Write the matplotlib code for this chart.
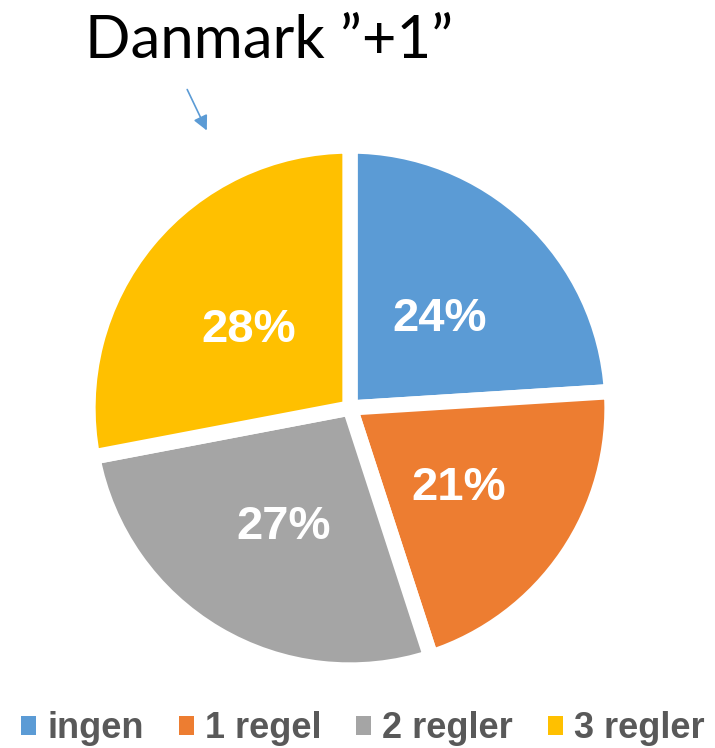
import numpy as np
import matplotlib.pyplot as plt

# data
categories = ["ingen", "1 regel", "2 regler", "3 regler"]
shares = [24, 21, 27, 28]
colors = ["#5B9BD5", "#ED7D31", "#A5A5A5", "#FFC000"]
title = "Danmark \u201d+1\u201d"

W, H = 715, 748
fig = plt.figure(figsize=(W / 100, H / 100), dpi=100)
ax = fig.add_axes([0, 0, 1, 1])

# pie, clockwise from 12 o'clock, white gaps between slices
wedges, texts, autotexts = ax.pie(
    shares, colors=colors, startangle=90, counterclock=False,
    center=(350, H - 408), radius=262, frame=True,
    autopct="%d%%", pctdistance=0.5,
    wedgeprops=dict(edgecolor="white", linewidth=11, joinstyle="miter"),
    textprops=dict(color="white", fontsize=34, fontweight="bold",
                   family="Liberation Sans"),
)
# nudge percentage labels down a little
for t in autotexts:
    x, y = t.get_position()
    t.set_position((x, y - 6))

ax.set_xlim(0, W)
ax.set_ylim(0, H)
ax.set_aspect("auto")
ax.axis("off")

# title + arrow
ax.text(85, H - 58, title, fontsize=43, family="Lato", va="baseline", ha="left")
ax.annotate("", xy=(208, H - 133), xytext=(186, H - 87),
            arrowprops=dict(arrowstyle="-|>", color="#5B9BD5", lw=1.2,
                            mutation_scale=22))

# legend along the bottom
leg = fig.legend(wedges, categories, ncol=4, loc="center left",
                 bbox_to_anchor=(21 / W, (H - 729) / H), frameon=False,
                 borderpad=0, borderaxespad=0, handlelength=0.42,
                 handleheight=0.42, handletextpad=0.3, columnspacing=0.97,
                 prop=dict(family="Liberation Sans", weight="bold", size=26))
for t in leg.get_texts():
    t.set_color("#595959")
for h in leg.legend_handles:
    h.set_linewidth(0)

fig.savefig("out.png", dpi=100)
